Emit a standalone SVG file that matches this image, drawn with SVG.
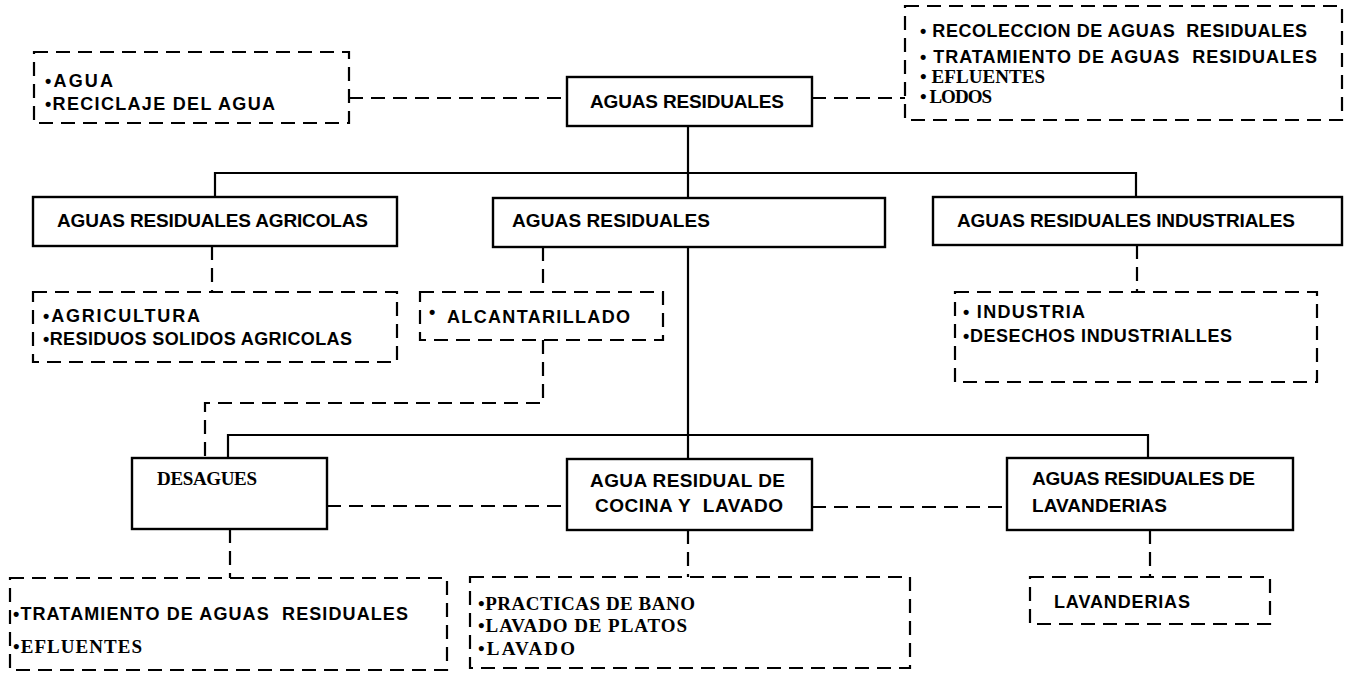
<svg xmlns="http://www.w3.org/2000/svg" width="1352" height="678" viewBox="0 0 1352 678">
<style>
.box{fill:#fff;stroke:#000;stroke-width:2.4}
.dbox{fill:none;stroke:#000;stroke-width:2.2;stroke-dasharray:14 8}
.ln{fill:none;stroke:#000;stroke-width:2.2}
.dl{fill:none;stroke:#000;stroke-width:2.2;stroke-dasharray:14 8}
.s{font-family:"Liberation Sans",Arial,sans-serif;font-weight:bold;font-size:19px;fill:#000}
.sm{font-family:"Liberation Sans",Arial,sans-serif;font-weight:bold;font-size:18px;fill:#000}
.r{font-family:"Liberation Serif","Times New Roman",serif;font-weight:bold;font-size:19px;fill:#000}
</style>
<rect width="1352" height="678" fill="#fff"/>
<g id="connectors">
<path class="dl" d="M349 98H567"/>
<path class="dl" d="M812 98H905"/>
<path class="ln" d="M688 126V198"/>
<path class="ln" d="M215 197V173H1136V197"/>
<path class="dl" d="M212 246V292"/>
<path class="dl" d="M543 247V292"/>
<path class="dl" d="M543 340V403H205V458"/>
<path class="dl" d="M1137 245V292"/>
<path class="ln" d="M688 247V459"/>
<path class="ln" d="M228 458V435H1148V458"/>
<path class="dl" d="M327 506H567"/>
<path class="dl" d="M812 507H1007"/>
<path class="dl" d="M230 529V578"/>
<path class="dl" d="M688 530V577"/>
<path class="dl" d="M1150 530V577"/>
</g>
<g id="n-agua">
<rect class="dbox" x="34" y="52" width="315" height="71"/>
<text class="sm" x="45" y="87" textLength="68">•AGUA</text>
<text class="sm" x="45" y="110" textLength="230">•RECICLAJE DEL AGUA</text>
</g>
<g id="n-root">
<rect class="box" x="567" y="77" width="245" height="49"/>
<text class="s" x="590" y="108" textLength="194">AGUAS RESIDUALES</text>
</g>
<g id="n-recoleccion">
<rect class="dbox" x="905" y="6" width="437" height="114"/>
<text class="sm" x="920" y="37" textLength="387">• RECOLECCION DE AGUAS&#160; RESIDUALES</text>
<text class="sm" x="920" y="63" textLength="397">• TRATAMIENTO DE AGUAS&#160; RESIDUALES</text>
<text class="r" x="920" y="83" textLength="125">• EFLUENTES</text>
<text class="r" x="920" y="103" textLength="72">• LODOS</text>
</g>
<g id="n-agricolas">
<rect class="box" x="33" y="197" width="364" height="49"/>
<text class="s" x="57" y="227" textLength="311">AGUAS RESIDUALES AGRICOLAS</text>
</g>
<g id="n-residuales">
<rect class="box" x="493" y="198" width="392" height="49"/>
<text class="s" x="512" y="227" textLength="198">AGUAS RESIDUALES</text>
</g>
<g id="n-industriales">
<rect class="box" x="933" y="197" width="409" height="48"/>
<text class="s" x="957" y="227" textLength="338">AGUAS RESIDUALES INDUSTRIALES</text>
</g>
<g id="n-agricultura">
<rect class="dbox" x="33" y="292" width="364" height="70"/>
<text class="sm" x="43" y="322" textLength="157">•AGRICULTURA</text>
<text class="sm" x="43" y="345" textLength="309">•RESIDUOS SOLIDOS AGRICOLAS</text>
</g>
<g id="n-alcantarillado">
<rect class="dbox" x="420" y="292" width="243" height="48"/>
<text class="sm" x="429" y="318" font-size="12">•</text>
<text class="sm" x="447" y="323" textLength="183">ALCANTARILLADO</text>
</g>
<g id="n-industria">
<rect class="dbox" x="955" y="292" width="362" height="90"/>
<text class="sm" x="963" y="318" textLength="122">• INDUSTRIA</text>
<text class="sm" x="963" y="342" textLength="269">•DESECHOS INDUSTRIALLES</text>
</g>
<g id="n-desagues">
<rect class="box" x="132" y="458" width="195" height="71"/>
<text class="r" x="157" y="485" textLength="100">DESAGUES</text>
</g>
<g id="n-cocina">
<rect class="box" x="567" y="459" width="245" height="71"/>
<text class="s" x="590" y="487" textLength="195">AGUA RESIDUAL DE</text>
<text class="s" x="595" y="512" textLength="188">COCINA Y&#160; LAVADO</text>
</g>
<g id="n-lavanderias-aguas">
<rect class="box" x="1007" y="458" width="286" height="72"/>
<text class="s" x="1032" y="485" textLength="223">AGUAS RESIDUALES DE</text>
<text class="s" x="1032" y="512" textLength="135">LAVANDERIAS</text>
</g>
<g id="n-tratamiento">
<rect class="dbox" x="10" y="578" width="437" height="92"/>
<text class="sm" x="13" y="620" textLength="395">•TRATAMIENTO DE AGUAS&#160; RESIDUALES</text>
<text class="r" x="13" y="653" textLength="129">•EFLUENTES</text>
</g>
<g id="n-practicas">
<rect class="dbox" x="470" y="577" width="440" height="91"/>
<text class="r" x="478" y="610" textLength="217">•PRACTICAS DE BANO</text>
<text class="r" x="478" y="632" textLength="209">•LAVADO DE PLATOS</text>
<text class="r" x="478" y="655" textLength="97">•LAVADO</text>
</g>
<g id="n-lavanderias">
<rect class="dbox" x="1030" y="577" width="240" height="47"/>
<text class="sm" x="1054" y="608" textLength="136">LAVANDERIAS</text>
</g>
</svg>
